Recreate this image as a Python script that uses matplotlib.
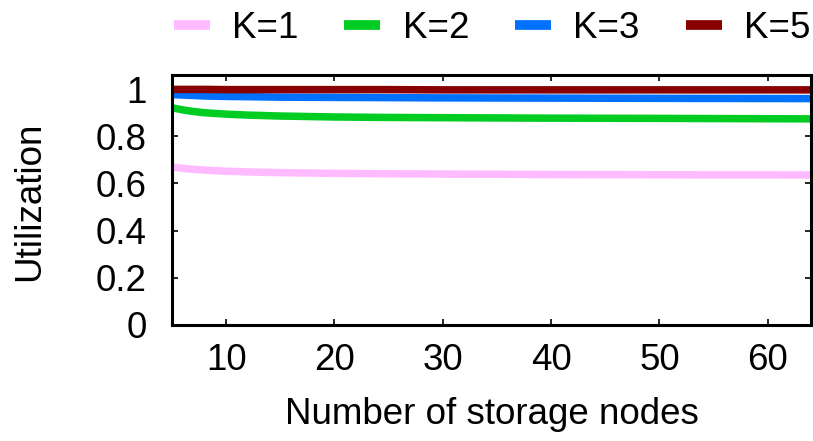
import matplotlib
matplotlib.use("Agg")
import matplotlib.pyplot as plt

plt.rcParams['font.family'] = ['Liberation Sans', 'DejaVu Sans']

nodes = [5, 6, 7, 8, 10, 12, 15, 20, 25, 30, 40, 50, 64]
util_k1 = [0.670, 0.664, 0.660, 0.657, 0.652, 0.649, 0.646, 0.643, 0.641, 0.640, 0.638, 0.637, 0.636]
util_k2 = [0.921, 0.912, 0.905, 0.900, 0.894, 0.890, 0.886, 0.882, 0.880, 0.879, 0.877, 0.876, 0.874]
util_k3 = [0.977, 0.975, 0.973, 0.971, 0.969, 0.968, 0.966, 0.965, 0.964, 0.963, 0.962, 0.961, 0.960]
util_k5 = [0.999, 0.999, 0.999, 0.999, 0.998, 0.998, 0.998, 0.998, 0.998, 0.997, 0.997, 0.997, 0.997]
labels = ['K=1', 'K=2', 'K=3', 'K=5']
colors = ['#ffbbff', '#00cc22', '#0070ff', '#880000']
xticks = [10, 20, 30, 40, 50, 60]
yticks = [0, 0.2, 0.4, 0.6, 0.8, 1]
ytick_labels = ['0', '0.2', '0.4', '0.6', '0.8', '1']

FS = 26.5

fig = plt.figure(figsize=(8.13, 4.41), dpi=100)
ax = fig.add_axes([172/813, 116/441, (811-172)/813, (325-75)/441])

lines = []
for ys, lab, c in zip([util_k1, util_k2, util_k3, util_k5], labels, colors):
    ln, = ax.plot(nodes, ys, color=c, lw=5.4, label=lab, solid_capstyle='butt')
    lines.append(ln)

ax.set_xlim(5, 64)
ax.set_ylim(0, 1.06)
ax.set_xticks(xticks)
ax.set_yticks(yticks)
ax.set_yticklabels(ytick_labels)
for s in ax.spines.values():
    s.set_linewidth(2.2)
ax.tick_params(direction='in', length=4, width=1.2, top=True, right=True,
               labelsize=FS)
ax.tick_params(axis='y', pad=18)
ax.tick_params(axis='x', pad=13)
ax.set_xlabel('Number of storage nodes', fontsize=FS)
ax.set_ylabel('Utilization', fontsize=FS)
ax.xaxis.set_label_coords(0.5, (325 - 415) / 250)
ax.xaxis.label.set_va('center')
ax.yaxis.set_label_coords((30 - 172) / 639, (325 - 201) / 250)
ax.yaxis.label.set_va('center')

leg = fig.legend(handles=lines, loc='center', bbox_to_anchor=(492/813, 1 - 28/441),
                 ncol=4, frameon=False, fontsize=FS, handlelength=0.98,
                 handletextpad=0.6, columnspacing=1.25, borderaxespad=0,
                 borderpad=0)
for h in leg.legend_handles:
    h.set_linewidth(7)

fig.savefig('out.png', dpi=100)
